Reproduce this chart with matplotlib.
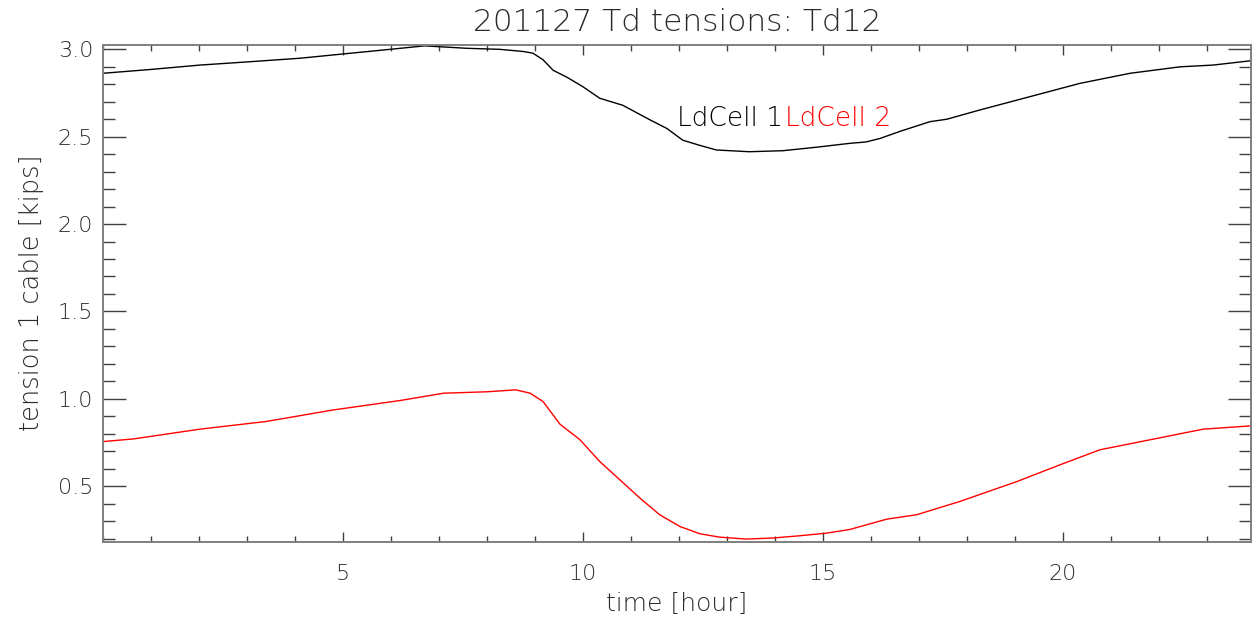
import matplotlib
matplotlib.use('Agg')
import matplotlib.pyplot as plt
from matplotlib.ticker import MultipleLocator, FixedLocator, FormatStrFormatter

# LdCell 1 (black)
t1 = [0.0, 1.0, 2.02, 3.0, 4.1, 4.98, 5.98, 6.7, 7.58, 8.27, 8.75, 8.96, 9.17,
      9.38, 9.67, 10.0, 10.35, 10.83, 11.4, 11.75, 12.08, 12.44, 12.78, 13.47,
      14.17, 14.87, 15.56, 15.9, 16.19, 16.6, 17.23, 17.58, 18.27, 19.31,
      20.35, 21.4, 22.44, 23.13, 23.92]
v1 = [2.863, 2.885, 2.91, 2.928, 2.949, 2.973, 3.0, 3.02, 3.006, 3.0, 2.988,
      2.978, 2.94, 2.88, 2.84, 2.786, 2.72, 2.68, 2.596, 2.547, 2.48, 2.45,
      2.424, 2.414, 2.42, 2.44, 2.462, 2.47, 2.49, 2.53, 2.586, 2.6, 2.653,
      2.729, 2.805, 2.863, 2.9, 2.91, 2.935]

# LdCell 2 (red)
t2 = [0.0, 0.63, 2.02, 3.4, 4.8, 6.19, 7.1, 8.0, 8.6, 8.9, 9.17, 9.52, 9.94,
      10.35, 10.77, 11.19, 11.6, 12.02, 12.44, 12.85, 13.4, 13.96, 14.52,
      15.08, 15.56, 16.33, 16.95, 17.85, 19.04, 19.94, 20.77, 21.81, 22.92,
      23.92]
v2 = [0.755, 0.77, 0.826, 0.87, 0.936, 0.99, 1.032, 1.04, 1.051, 1.032, 0.984,
      0.855, 0.765, 0.641, 0.536, 0.431, 0.336, 0.269, 0.227, 0.208, 0.197,
      0.203, 0.216, 0.231, 0.252, 0.311, 0.336, 0.412, 0.526, 0.622, 0.708,
      0.765, 0.826, 0.845]

title = '201127 Td tensions: Td12'
xlabel = 'time [hour]'
ylabel = 'tension 1 cable [kips]'
labels = ['LdCell 1', 'LdCell 2']
colors = ['black', 'red']
xticks = [5, 10, 15, 20]

plt.rcParams['font.family'] = ['DejaVu Sans']
plt.rcParams['font.weight'] = 'light'
plt.rcParams['axes.titleweight'] = 'light'
plt.rcParams['axes.labelweight'] = 'light'

txt_color = '#2a2a2a'

fig = plt.figure(figsize=(12.6, 6.23), dpi=100)
ax = fig.add_axes([0.0817, 0.1308, 0.9929 - 0.0817, 0.9278 - 0.1308])

ax.plot(t1, v1, color=colors[0], linewidth=1.0)
ax.plot(t2, v2, color=colors[1], linewidth=1.0)

ax.set_xlim(0, 23.92)
ax.set_ylim(0.183, 3.025)

ax.xaxis.set_major_locator(FixedLocator(xticks))
ax.xaxis.set_minor_locator(MultipleLocator(1))
ax.yaxis.set_major_locator(MultipleLocator(0.5))
ax.yaxis.set_minor_locator(MultipleLocator(0.1))
ax.yaxis.set_major_formatter(FormatStrFormatter('%.1f'))

ax.tick_params(axis='x', which='major', direction='in', length=7.5, width=1,
               top=True, color='#404040', labelsize=16, pad=16,
               labelcolor=txt_color)
ax.tick_params(axis='x', which='minor', direction='in', length=4, width=1,
               top=True, color='#404040')
ax.tick_params(axis='y', which='major', direction='in', length=16.5, width=1,
               right=True, color='#404040', labelsize=16, pad=7,
               labelcolor=txt_color)
ax.tick_params(axis='y', which='minor', direction='in', length=8.5, width=1,
               right=True, color='#404040')
for s in ax.spines.values():
    s.set_color('#7f7f7f')
    s.set_linewidth(1.4)

ax.set_title(title, fontsize=22.5, pad=10, color=txt_color)
ax.set_xlabel(xlabel, fontsize=18, labelpad=6, color=txt_color)
ax.set_ylabel(ylabel, fontsize=18.5, labelpad=10, color=txt_color)

txt = ax.text(11.95, 2.561, labels[0], color=colors[0], fontsize=19,
              va='baseline', ha='left')
ax.annotate(labels[1], xy=(1, 0), xycoords=txt, xytext=(2, 0),
            textcoords='offset points', va='bottom', ha='left',
            color=colors[1], fontsize=19)

fig.savefig('out.png', dpi=100, facecolor='white')
